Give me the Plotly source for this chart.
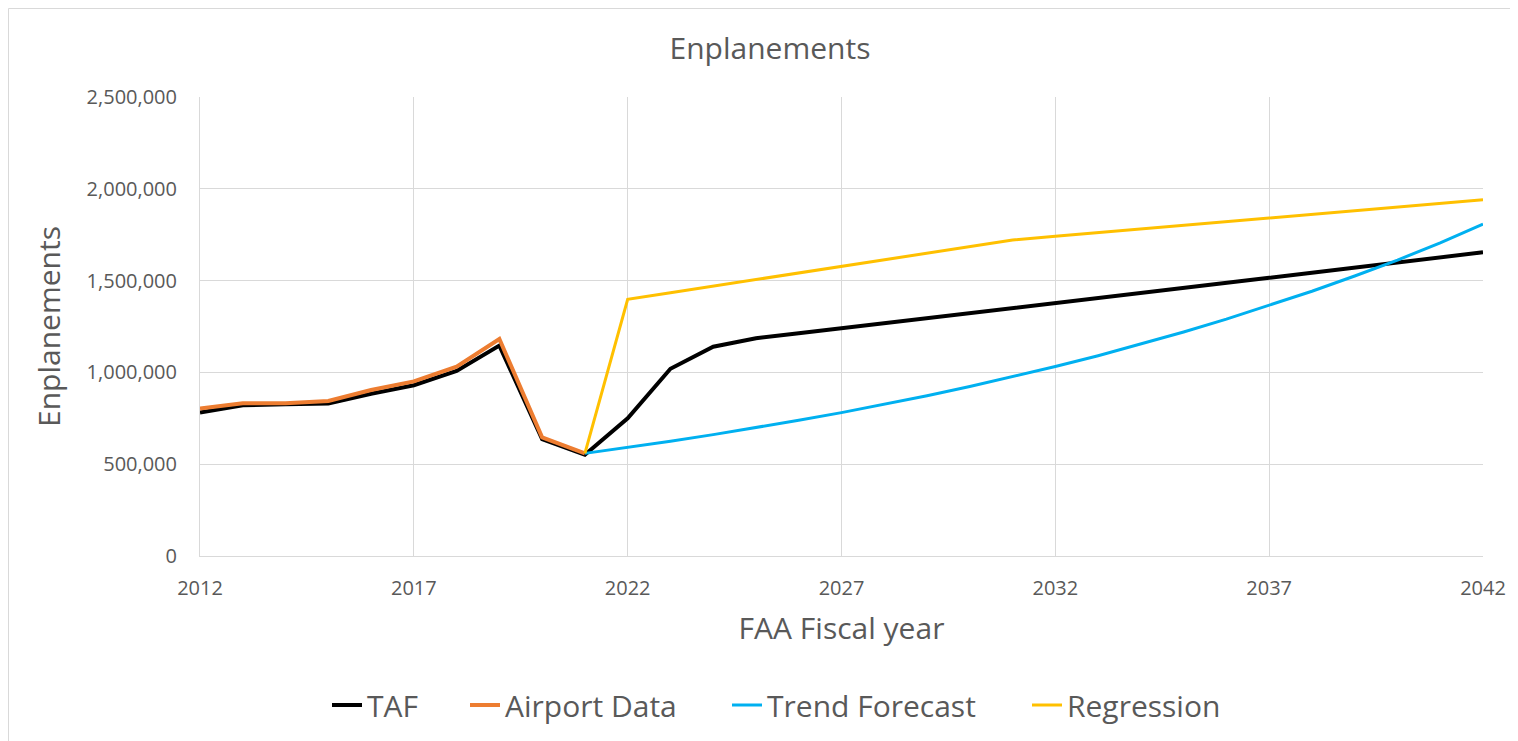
import plotly.graph_objects as go

# Years
hist_years = list(range(2012, 2022))
taf_years = list(range(2012, 2043))
fcst_years = list(range(2021, 2043))

# TAF (black)
taf = [781000, 821000, 826000, 830000, 884000, 930000, 1008000, 1146000, 636000, 552000,
       750000, 1020000, 1140000, 1186000, 1213000, 1240000, 1268000, 1295000, 1323000, 1350000,
       1378000, 1405000, 1433000, 1460000, 1488000, 1515000, 1543000, 1570000, 1598000, 1626000,
       1654000]

# Airport Data (orange)
airport = [804000, 832000, 832000, 844000, 904000, 951000, 1031000, 1182000, 646000, 559000]

# Trend Forecast (blue)
trend = [559000, 591000, 625000, 661000, 699000, 739000, 781000, 826000, 873000, 923000, 976000,
         1032000, 1091000, 1154000, 1220000, 1290000, 1364000, 1442000, 1525000, 1612000, 1705000,
         1808000]

# Regression (yellow)
regression = [559000, 1398000, 1434000, 1470000, 1506000, 1542000, 1577000, 1613000, 1649000,
              1685000, 1721000, 1741000, 1761000, 1781000, 1801000, 1821000, 1840000, 1860000,
              1880000, 1900000, 1920000, 1940000]

FONT = "Open Sans"
GREY = "#595959"
W, H = 1518, 741
L, T, PW, PH = 192, 89, 1283, 459

series = [
    ("TAF", taf_years, taf, "#000000", 4, "legend", 319),
    ("Airport Data", hist_years, airport, "#ED7D31", 4, "legend2", 457),
    ("Trend Forecast", fcst_years, trend, "#00B0F0", 3, "legend3", 719),
    ("Regression", fcst_years, regression, "#FFC000", 3, "legend4", 1019),
]

fig = go.Figure()
legends = {}
for name, xs, ys, color, width, leg, lx in series:
    fig.add_trace(go.Scatter(x=xs, y=ys, name=name, mode="lines", legend=leg,
                             line=dict(color=color, width=width)))
    legends[leg] = dict(orientation="h", xref="container", yref="container",
                        x=lx / W, xanchor="left", y=1 - 697 / H, yanchor="middle",
                        font=dict(size=30, color=GREY), bgcolor="rgba(0,0,0,0)")

fig.update_layout(
    width=W,
    height=H,
    margin=dict(l=L, r=W - L - PW, t=T, b=H - T - PH),
    paper_bgcolor="white",
    plot_bgcolor="white",
    font=dict(family=FONT, color=GREY),
    title=dict(text="Enplanements", x=762 / W, xanchor="center", y=1 - 40 / H, yanchor="middle",
               font=dict(size=30, color=GREY)),
    xaxis=dict(
        range=[2012, 2042], tick0=2012, dtick=5,
        showgrid=True, gridcolor="#d9d9d9", gridwidth=1,
        showline=True, linecolor="#d9d9d9", linewidth=1,
        zeroline=False, ticks="", ticklabelstandoff=14,
        tickfont=dict(size=20, color=GREY),
        title=dict(text="FAA Fiscal year", font=dict(size=30, color=GREY), standoff=17),
    ),
    yaxis=dict(
        range=[0, 2500000], dtick=500000, tickformat=",d",
        showgrid=True, gridcolor="#d9d9d9", gridwidth=1,
        showline=True, linecolor="#d9d9d9", linewidth=1,
        zeroline=False, ticks="", ticklabelstandoff=18,
        tickfont=dict(size=20, color=GREY),
        title=dict(text="Enplanements", font=dict(size=30, color=GREY), standoff=17),
    ),
    showlegend=True,
    **legends,
)

# chart area border (top and left edges visible)
fig.add_shape(type="rect", xref="paper", yref="paper",
              x0=(0.5 - L) / PW, x1=(W + 5 - L) / PW,
              y0=-(H + 5 - T - PH) / PH, y1=1 + (T - 0.5) / PH,
              line=dict(color="#d9d9d9", width=1), fillcolor="rgba(0,0,0,0)", layer="below")

fig.write_html("out.html")
